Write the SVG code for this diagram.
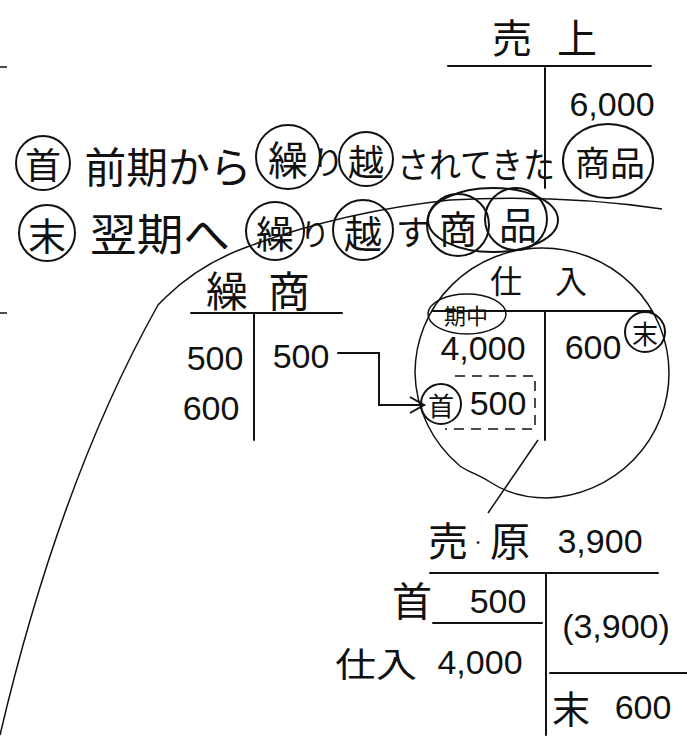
<svg xmlns="http://www.w3.org/2000/svg" width="687" height="736" viewBox="0 0 687 736">
<style>
  text { fill: #111; dominant-baseline: central; text-anchor: middle; }
  .jp { font-family: "Noto Sans CJK JP", "Noto Sans CJK SC", sans-serif; font-weight: 400; }
  .num { font-family: "Liberation Sans", "DejaVu Sans", sans-serif; font-size: 34px; }
  .ln { stroke: #111; stroke-width: 2; fill: none; stroke-linecap: round; }
  .thin { stroke: #111; stroke-width: 1.5; fill: none; }
  .ring { stroke: #111; stroke-width: 2; fill: none; }
</style>
<defs>
  <marker id="arr" viewBox="0 0 20 20" refX="16" refY="10" markerWidth="20" markerHeight="20" markerUnits="userSpaceOnUse" orient="auto">
    <path d="M2,2 L16,10 L2,18" fill="none" stroke="#111" stroke-width="2"/>
  </marker>
</defs>

<!-- scan marks -->
<g id="marks">
  <line class="thin" x1="0" y1="67" x2="7" y2="67"/>
  <line class="thin" x1="0" y1="313" x2="7" y2="313"/>
</g>

<!-- Sales account -->
<g id="uriage">
  <text class="jp" x="512" y="36" font-size="40">売</text>
  <text class="jp" x="577" y="36" font-size="40">上</text>
  <line class="ln" x1="448" y1="66" x2="651" y2="66"/>
  <line class="ln" x1="545" y1="68" x2="545" y2="188"/>
  <text class="num" x="612" y="104">6,000</text>
</g>

<!-- Legend row 1 -->
<g id="legend-row1">
  <circle class="ring" cx="43" cy="163" r="27"/>
  <text class="jp" x="43" y="163" font-size="36">首</text>
  <text class="jp" x="168" y="164" font-size="42" textLength="167" lengthAdjust="spacingAndGlyphs">前期から</text>
  <circle class="ring" cx="288" cy="157" r="32"/>
  <text class="jp" x="288" y="158" font-size="40">繰</text>
  <text class="jp" x="328" y="160" font-size="32">り</text>
  <circle class="ring" cx="366" cy="159" r="27"/>
  <text class="jp" x="366" y="160" font-size="36">越</text>
  <text class="jp" x="476" y="162" font-size="35" textLength="158" lengthAdjust="spacingAndGlyphs">されてきた</text>
  <ellipse class="ring" cx="608" cy="161" rx="45" ry="37"/>
  <text class="jp" x="610" y="161" font-size="34" textLength="70" lengthAdjust="spacingAndGlyphs">商品</text>
</g>

<!-- Legend row 2 -->
<g id="legend-row2">
  <circle class="ring" cx="47" cy="233" r="28"/>
  <text class="jp" x="47" y="233" font-size="38">末</text>
  <text class="jp" x="160" y="232" font-size="44" textLength="140" lengthAdjust="spacingAndGlyphs">翌期へ</text>
  <circle class="ring" cx="275" cy="231" r="29"/>
  <text class="jp" x="275" y="231" font-size="38">繰</text>
  <text class="jp" x="315" y="232" font-size="30">り</text>
  <circle class="ring" cx="363" cy="230" r="30"/>
  <text class="jp" x="363" y="231" font-size="38">越</text>
  <text class="jp" x="413" y="230" font-size="34">す</text>
  <circle class="ring" cx="458" cy="225" r="31"/>
  <text class="jp" x="458" y="226" font-size="38">商</text>
  <circle class="ring" cx="516" cy="219" r="31"/>
  <text class="jp" x="518" y="222" font-size="38">品</text>
  <ellipse class="ring" cx="493" cy="220" rx="65" ry="32"/>
</g>

<!-- Kurisho account -->
<g id="kurisho">
  <text class="jp" x="227" y="288" font-size="42">繰</text>
  <text class="jp" x="289" y="288" font-size="42">商</text>
  <line class="ln" x1="191" y1="313" x2="342" y2="313"/>
  <line class="ln" x1="254" y1="313" x2="254" y2="440"/>
  <text class="num" x="215" y="358">500</text>
  <text class="num" x="301" y="356">500</text>
  <text class="num" x="211" y="408">600</text>
</g>

<!-- Shiire account -->
<g id="shiire">
  <path class="thin" d="M669,373 A127,125 0 0 1 547,498 C525,498 505,492 490,482 C478,474 468,472 460,466 A127,125 0 0 1 415,373 A127,125 0 0 1 669,373 Z"/>
  <text class="jp" x="506" y="279" font-size="32">仕</text>
  <text class="jp" x="571" y="279" font-size="32">入</text>
  <line class="ln" x1="432" y1="311" x2="652" y2="311"/>
  <line class="ln" x1="545" y1="311" x2="545" y2="440"/>
  <ellipse class="thin" cx="467" cy="314" rx="39" ry="20"/>
  <text class="jp" x="466" y="314" font-size="22">期中</text>
  <text class="num" x="483" y="348">4,000</text>
  <text class="num" x="593" y="347">600</text>
  <circle class="ring" cx="645" cy="332" r="20"/>
  <text class="jp" x="645" y="332" font-size="26">末</text>
  <circle class="ring" cx="441" cy="404" r="20"/>
  <text class="jp" x="441" y="404" font-size="26">首</text>
  <text class="num" x="498" y="403" font-size="32">500</text>
  <path class="thin" d="M455,376 H535 V429 H445" stroke-dasharray="10,7"/>
</g>

<!-- Cost of sales account -->
<g id="urigen">
  <text class="jp" x="448" y="539" font-size="40">売</text>
  <text class="jp" x="478" y="541" font-size="20">·</text>
  <text class="jp" x="510" y="539" font-size="40">原</text>
  <text class="num" x="600" y="541">3,900</text>
  <line class="ln" x1="430" y1="573" x2="658" y2="573"/>
  <line class="ln" x1="546" y1="573" x2="546" y2="735"/>
  <text class="jp" x="412" y="599" font-size="40">首</text>
  <text class="num" x="498" y="601">500</text>
  <line class="ln" x1="433" y1="623" x2="542" y2="623"/>
  <text class="jp" x="376" y="662" font-size="34" textLength="82" lengthAdjust="spacingAndGlyphs">仕入</text>
  <text class="num" x="480" y="662">4,000</text>
  <text class="num" x="616" y="626" font-size="37">(3,900)</text>
  <line class="ln" x1="550" y1="673" x2="687" y2="673"/>
  <text class="jp" x="571" y="706" font-size="38">末</text>
  <text class="num" x="643" y="707">600</text>
</g>

<!-- Connectors -->
<g id="connectors">
  <path class="thin" d="M0,735 Q60,480 158,305 L166,297 Q200,264 247,247 Q340,212 450,200 Q560,194 662,209"/>
  <polyline class="ln" points="338,353 379,353 379,405 424,405" marker-end="url(#arr)"/>
  <line class="thin" x1="538" y1="440" x2="488" y2="513"/>
</g>
</svg>
